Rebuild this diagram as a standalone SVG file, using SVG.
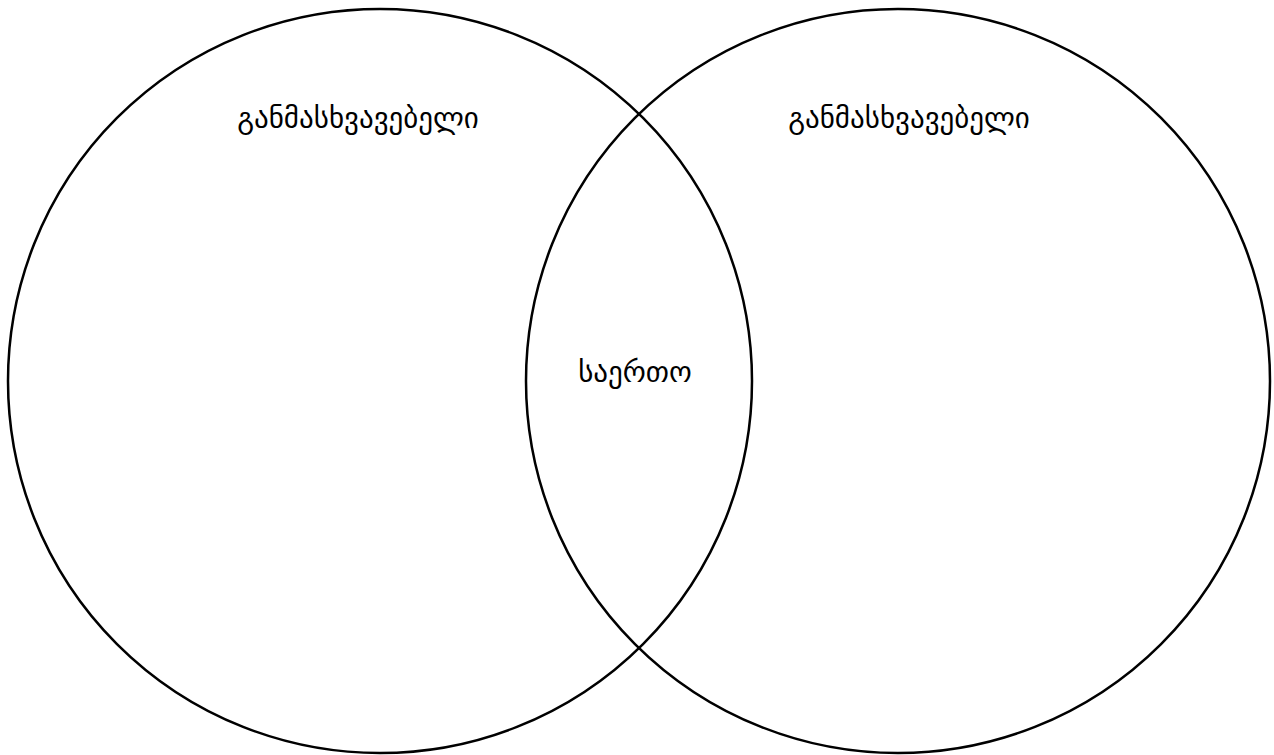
<svg xmlns="http://www.w3.org/2000/svg" width="1274" height="755" viewBox="0 0 1274 755">
<style>
.c{fill:none;stroke:#000;stroke-width:2.5}
.t{font-family:"Noto Sans","DejaVu Sans",sans-serif;font-size:29px;fill:#000;text-anchor:middle}
</style>
<rect width="1274" height="755" fill="#fff"/>
<g id="left"><circle class="c" cx="380" cy="381" r="372"/><text class="t" x="358" y="128">განმასხვავებელი</text></g>
<g id="right"><circle class="c" cx="898" cy="381" r="372"/><text class="t" x="909" y="128">განმასხვავებელი</text></g>
<g id="common"><text class="t" x="635" y="382">საერთო</text></g>
</svg>
